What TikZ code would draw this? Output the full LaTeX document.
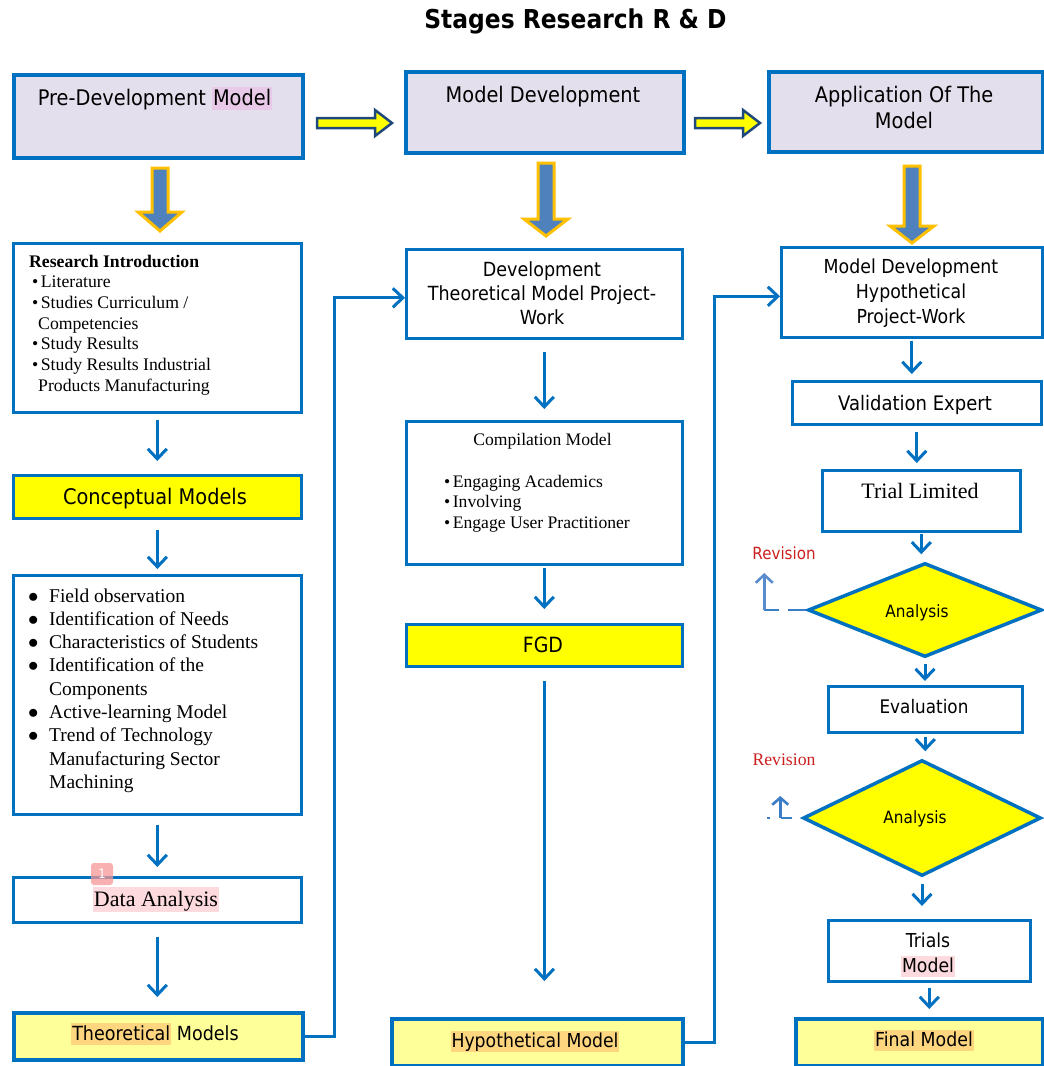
\documentclass[tikz,border=0pt]{standalone}
\usepackage{fontspec}
\setmainfont{Liberation Serif}
\newfontfamily\vsans[FakeStretch=0.9]{DejaVu Sans}
\usetikzlibrary{arrows.meta,shapes.geometric,calc}
\definecolor{bblue}{RGB}{0,112,192}
\definecolor{lav}{RGB}{228,223,236}
\definecolor{yel}{RGB}{255,255,0}
\definecolor{lyel}{RGB}{255,255,153}
\definecolor{arrfill}{RGB}{79,129,189}
\definecolor{arrgold}{RGB}{255,192,0}
\definecolor{navy}{RGB}{31,73,125}
\definecolor{revred}{RGB}{204,32,32}
\definecolor{hlpink}{RGB}{252,218,222}
\definecolor{hllav}{RGB}{232,202,232}
\definecolor{hlorange}{RGB}{255,214,128}
\definecolor{fbblue}{RGB}{60,125,200}
\definecolor{fblight}{RGB}{90,140,205}
\definecolor{badgered}{RGB}{248,150,150}
\newcommand\fs[2]{\fontsize{#1}{#2}\selectfont}
\newcommand\hl[2]{{\setlength{\fboxsep}{1pt}\colorbox{#1}{\rule[-0.2em]{0pt}{1.0em}#2}}}
\newcommand\ctab[1]{\begin{tabular}[t]{@{}c@{}}#1\end{tabular}}
\newcommand\ltab[1]{\begin{tabular}[t]{@{}l@{}}#1\end{tabular}}
\newcommand\bigdown[4]{\draw[bigarrow] ({#1-8},#2) -- ({#1+8},#2) -- ({#1+8},#3) -- ({#1+22},#3) -- (#1,#4) -- ({#1-22},#3) -- ({#1-8},#3) -- cycle;}
\newcommand\yright[4]{\draw[yarrow] (#2,{#1-5}) -- (#3,{#1-5}) -- (#3,{#1-13}) -- (#4,#1) -- (#3,{#1+13}) -- (#3,{#1+5}) -- (#2,{#1+5}) -- cycle;}
\newcommand\bul{\makebox[21pt][l]{$\bullet$}}
\begin{document}
\begin{tikzpicture}[x=1pt,y=-1pt,
  box/.style={rectangle, draw=bblue, line width=2.6pt, fill=white, inner sep=0pt, anchor=north west},
  hdr/.style={box, fill=lav, line width=3.5pt},
  ybox/.style={box, fill=yel, line width=2.8pt},
  lybox/.style={box, fill=lyel, line width=3.5pt},
  dia/.style={diamond, draw=bblue, fill=yel, line width=3.5pt, inner sep=0pt},
  arr/.style={draw=bblue, line width=3pt, line join=miter, -{Straight Barb[length=10pt,width=19pt]}},
  fb/.style={draw=fbblue, line width=2.6pt},
  bigarrow/.style={fill=arrfill, draw=arrgold, line width=3pt, line join=miter},
  yarrow/.style={fill=yel, draw=navy, line width=2.5pt, line join=miter},
  txt/.style={inner sep=0pt, anchor=base},
  badge/.style={fill=badgered, fill opacity=0.75, text opacity=1, text=white, rounded corners=3pt, minimum size=22pt, inner sep=0pt, font=\vsans\fs{13}{13}}
]
\useasboundingbox (0,0) rectangle (1044,1066);
\fill[white] (0,0) rectangle (1044,1066);

% title
\node[txt] (title) at (575.5,28) {\vsans\bfseries\fs{26}{30}Stages Research R \& D};

% header boxes
\node[hdr, minimum width=289pt, minimum height=83pt] (pre) at (12,73) {};
\node[hdr, minimum width=278pt, minimum height=81pt] (md) at (404,70) {};
\node[hdr, minimum width=274pt, minimum height=80pt] (app) at (767,70) {};
\node[txt] (pret) at (155,105) {\vsans\fs{21.5}{25}Pre-Development \hl{hllav}{Model}};
\node[txt] (mdt) at (543,102) {\vsans\fs{21.5}{25}Model Development};
\node[txt] (appt) at (904,102) {\vsans\fs{21.5}{26}\ctab{Application Of The\\Model}};

% block arrows
\yright{123}{317}{375}{392}
\yright{123}{695}{743}{760}
\bigdown{160}{168}{212}{231}
\bigdown{546}{163}{219}{236}
\bigdown{912}{166}{226}{243}

% left column
\node[box, minimum width=288pt, minimum height=169pt] (ri) at (12,242) {};
\node[txt, anchor=base west] (rit) at (29,267) {\fs{17.7}{20.7}\ltab{\textbf{Research Introduction}\\
\hspace*{3pt}\textbullet\hspace{2.5pt}Literature\\
\hspace*{3pt}\textbullet\hspace{2.5pt}Studies Curriculum /\\
\hspace*{9pt}Competencies\\
\hspace*{3pt}\textbullet\hspace{2.5pt}Study Results\\
\hspace*{3pt}\textbullet\hspace{2.5pt}Study Results Industrial\\
\hspace*{9pt}Products Manufacturing}};

\node[ybox, minimum width=288pt, minimum height=43pt] (cm) at (12,474) {};
\node[txt] (cmt) at (155,504) {\vsans\fs{21.5}{25}Conceptual Models};

\node[box, minimum width=288pt, minimum height=239pt] (bl) at (12,574) {};
\node[txt, anchor=base west] (blt) at (28,602) {\fs{19.5}{23.3}\ltab{\bul Field observation\\
\bul Identification of Needs\\
\bul Characteristics of Students\\
\bul Identification of the\\
\hspace*{21pt}Components\\
\bul Active-learning Model\\
\bul Trend of Technology\\
\hspace*{21pt}Manufacturing Sector\\
\hspace*{21pt}Machining}};

\node[box, minimum width=288pt, minimum height=45pt] (da) at (12,876) {};
\node[txt] (dat) at (156,906) {\fs{22}{26}\hl{hlpink}{Data Analysis}};
\node[badge] (bdg) at (102,874) {1};

\node[lybox, minimum width=289pt, minimum height=47pt] (theo) at (12,1011) {};
\node[txt] (theot) at (155,1040) {\vsans\fs{19.5}{22}\hl{hlorange}{Theoretical} Models};

% middle column
\node[box, minimum width=276pt, minimum height=89pt] (devt) at (405,248) {};
\node[txt] (devtt) at (542,276) {\vsans\fs{19.5}{24}\ctab{Development\\Theoretical Model Project-\\Work}};

\node[box, minimum width=276pt, minimum height=143pt] (comp) at (405,420) {};
\node[txt] (compt) at (542.5,445) {\fs{17.6}{20}Compilation Model};
\node[txt, anchor=base west] (compb) at (444,487) {\fs{17.6}{20.5}\ltab{\textbullet\hspace{2.5pt}Engaging Academics\\
\textbullet\hspace{2.5pt}Involving\\
\textbullet\hspace{2.5pt}Engage User Practitioner}};

\node[ybox, minimum width=276pt, minimum height=42pt] (fgd) at (405,623) {};
\node[txt] (fgdt) at (543,652) {\vsans\fs{21}{25}FGD};

\node[lybox, minimum width=291pt, minimum height=47pt] (hyp) at (390,1017) {};
\node[txt] (hypt) at (535,1047) {\vsans\fs{19.2}{22}\hl{hlorange}{Hypothetical Model}};

% right column
\node[box, minimum width=261pt, minimum height=90pt] (mdh) at (780,246) {};
\node[txt] (mdht) at (911,273) {\vsans\fs{19.3}{25}\ctab{Model Development\\Hypothetical\\Project-Work}};

\node[box, minimum width=249pt, minimum height=43pt] (val) at (791,380) {};
\node[txt] (valt) at (915,410) {\vsans\fs{20}{24}Validation Expert};

\node[box, minimum width=198pt, minimum height=61pt] (trial) at (821,469) {};
\node[txt] (trialt) at (920,498) {\fs{22}{26}Trial Limited};

\node[dia, minimum width=234pt, minimum height=94pt] (d1) at (925,610) {};
\node[txt] (d1t) at (917,617) {\vsans\fs{17}{20}Analysis};

\node[box, minimum width=194pt, minimum height=46pt] (eval) at (827,685) {};
\node[txt] (evalt) at (924,713) {\vsans\fs{18.7}{22}Evaluation};

\node[dia, minimum width=238pt, minimum height=116pt] (d2) at (922,818) {};
\node[txt] (d2t) at (915,823) {\vsans\fs{17}{20}Analysis};

\node[box, minimum width=202pt, minimum height=61pt] (trials) at (827,919) {};
\node[txt] (trialst) at (928,947) {\vsans\fs{19.2}{25}\ctab{Trials\\\hl{hlpink}{Model}}};

\node[lybox, minimum width=247pt, minimum height=47pt] (final) at (794,1017) {};
\node[txt] (finalt) at (924,1046) {\vsans\fs{19.3}{22}\hl{hlorange}{Final Model}};

\node[txt] (rev1) at (784,559) {\vsans\fs{16.8}{20}\color{revred}Revision};
\node[txt] (rev2) at (784,765) {\fs{17.7}{20}\color{revred}Revision};

% vertical arrows
\draw[arr] ([yshift=-6pt]ri.south) -- ($(ri.south |- cm.north)+(0,-13)$);
\draw[arr] ([yshift=-10pt]cm.south) -- ($(cm.south |- bl.north)+(0,-5)$);
\draw[arr] ([yshift=-9pt]bl.south) -- ($(bl.south |- da.north)+(0,-9)$);
\draw[arr] ([yshift=-13pt]da.south) -- ($(da.south |- theo.north)+(0,-14)$);
\draw[arr] ([yshift=-12pt]devt.south) -- ($(devt.south |- comp.north)+(0,-11)$);
\draw[arr] ([yshift=-2pt]comp.south) -- ($(comp.south |- fgd.north)+(0,-14)$);
\draw[arr] ([yshift=-13pt]fgd.south) -- ($(fgd.south |- hyp.north)+(0,-36)$);
\draw[arr] ([yshift=-2pt]mdh.south) -- ($(mdh.south |- val.north)+(0,-6)$);
\draw[arr] ([yshift=-6pt]val.south) -- ($(val.south |- trial.north)+(0,-6)$);
\draw[arr] ([yshift=-1pt]trial.south) -- ($(trial.south |- d1.north)+(0,-7)$);
\draw[arr] ([yshift=-5pt]d1.south) -- ($(d1.south |- eval.north)+(0,-4)$);
\draw[arr] ([yshift=-3pt]eval.south) -- ($(eval.south |- d2.north)+(0,-7)$);
\draw[arr] ([yshift=-6pt]d2.south) -- ($(d2.south |- trials.north)+(0,-13)$);
\draw[arr] ([yshift=-5pt]trials.south) -- ($(trials.south |- final.north)+(0,-8)$);

% elbow connectors
\draw[arr] (theo.east) -| ($(devt.west)+(-71,4)$) -- ($(devt.west)+(0,4)$);
\draw[arr] (hyp.east) -| ($(mdh.west)+(-66,4)$) -- ($(mdh.west)+(0,4)$);

% revision feedback
\draw[fb, dash pattern=on 18pt off 9pt on 300pt off 1pt] (d1.west) -- ($(d1.west)+(-42,0)$);
\draw[fb, draw=fblight, -{Straight Barb[length=8pt,width=17pt]}] ($(d1.west)+(-42,0)$) -- ($(d1.west)+(-42,-37)$);
\draw[fb, dash pattern=on 11pt off 11pt on 3pt off 40pt] ([xshift=-9pt]d2.west) -- ++(-28,0);
\draw[fb, -{Straight Barb[length=7pt,width=16pt]}] ([xshift=-21pt]d2.west) -- ++(0,-22);
\end{tikzpicture}
\end{document}
